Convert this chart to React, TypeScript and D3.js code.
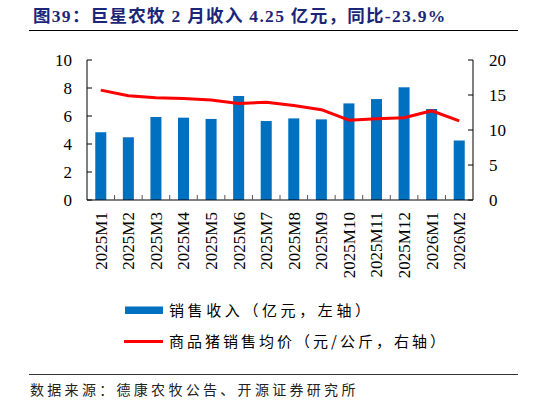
import React from "react";
import * as d3 from "d3";

const categories = ["2025M1","2025M2","2025M3","2025M4","2025M5","2025M6","2025M7","2025M8","2025M9","2025M10","2025M11","2025M12","2026M1","2026M2"];
const revenue = [4.84, 4.48, 5.93, 5.88, 5.79, 7.43, 5.64, 5.83, 5.76, 6.9, 7.21, 8.05, 6.5, 4.25];
const hogPrice = [15.7, 14.9, 14.6, 14.5, 14.3, 13.8, 13.95, 13.5, 12.9, 11.4, 11.6, 11.75, 12.75, 11.3];
const leftTicks = [0, 2, 4, 6, 8, 10];
const rightTicks = [0, 5, 10, 15, 20];

const W = 546, H = 404;
const plot = { left: 87, right: 473, top: 60, bottom: 200 };
const serif = "'Liberation Serif', 'Times New Roman', serif";
const cjk = "'Noto Sans CJK SC', sans-serif";

export default function App() {
  const x = d3.scaleBand().domain(categories).range([plot.left, plot.right]).paddingInner(0.6).paddingOuter(0.3);
  const xc = (c: string) => (x(c) as number) + x.bandwidth() / 2;
  const step = (plot.right - plot.left) / categories.length;
  const yL = d3.scaleLinear().domain([0, 10]).range([plot.bottom, plot.top]);
  const yR = d3.scaleLinear().domain([0, 20]).range([plot.bottom, plot.top]);
  const line = d3.line<number>().x((_, i) => xc(categories[i])).y(d => yR(d));

  return (
    <svg width={W} height={H} style={{ position: "absolute", left: 0, top: 0, background: "#fff" }}>
      <text x={33} y={22} fontFamily={`${serif}, ${cjk}`} fontWeight="bold" fontSize={17.5} letterSpacing={1.3} fill="#1b2679">
        图39：巨星农牧 2 月收入 4.25 亿元，同比-23.9%
      </text>
      <line x1={29} x2={518} y1={30.5} y2={30.5} stroke="#000" strokeWidth={1} />

      {categories.map((c, i) => (
        <rect key={c} x={x(c)} y={yL(revenue[i])} width={x.bandwidth()} height={plot.bottom - yL(revenue[i])} fill="#0070C0" />
      ))}
      <path d={line(hogPrice) || ""} fill="none" stroke="#FF0000" strokeWidth={3} strokeLinejoin="round" />

      {/* axes */}
      <line x1={plot.left} x2={plot.right} y1={plot.bottom} y2={plot.bottom} stroke="#000" />
      <line x1={plot.left} x2={plot.left} y1={plot.top} y2={plot.bottom} stroke="#000" />
      <line x1={plot.right} x2={plot.right} y1={plot.top} y2={plot.bottom} stroke="#000" />
      {d3.range(1, categories.length).map(i => (
        <line key={i} x1={plot.left + i * step} x2={plot.left + i * step} y1={plot.bottom} y2={plot.bottom - 5} stroke="#555" />
      ))}
      {leftTicks.map(t => (
        <g key={t}>
          <line x1={plot.left} x2={plot.left + 5} y1={yL(t)} y2={yL(t)} stroke="#000" />
          <text x={plot.left - 15} y={yL(t)} dy="0.35em" textAnchor="end" fontFamily={serif} fontSize={17} fill="#000">{t}</text>
        </g>
      ))}
      {rightTicks.map(t => (
        <g key={t}>
          <line x1={plot.right - 5} x2={plot.right} y1={yR(t)} y2={yR(t)} stroke="#000" />
          <text x={plot.right + 16} y={yR(t)} dy="0.35em" textAnchor="start" fontFamily={serif} fontSize={17} fill="#000">{t}</text>
        </g>
      ))}
      {categories.map(c => (
        <text key={c} transform={`translate(${xc(c)},${plot.bottom + 12}) rotate(-90)`} dy="0.35em" textAnchor="end" fontFamily={serif} fontSize={17} fill="#000">{c}</text>
      ))}

      {/* legend */}
      <rect x={125} y={306.5} width={38} height={7.5} fill="#0070C0" />
      <text x={169} y={310.5} dy="0.35em" fontFamily={cjk} fontSize={15} letterSpacing={3.6} fill="#000">销售收入（亿元，左轴）</text>
      <line x1={124} x2={163} y1={341.5} y2={341.5} stroke="#FF0000" strokeWidth={3} />
      <text x={169} y={341.5} dy="0.35em" fontFamily={cjk} fontSize={15} letterSpacing={3.0} fill="#000">商品猪销售均价（元/公斤，右轴）</text>

      <line x1={29} x2={518} y1={374.5} y2={374.5} stroke="#333" strokeWidth={1} />
      <text x={30} y={390} dy="0.35em" fontFamily={cjk} fontSize={14} letterSpacing={3.3} fill="#222">数据来源：德康农牧公告、开源证券研究所</text>
    </svg>
  );
}
